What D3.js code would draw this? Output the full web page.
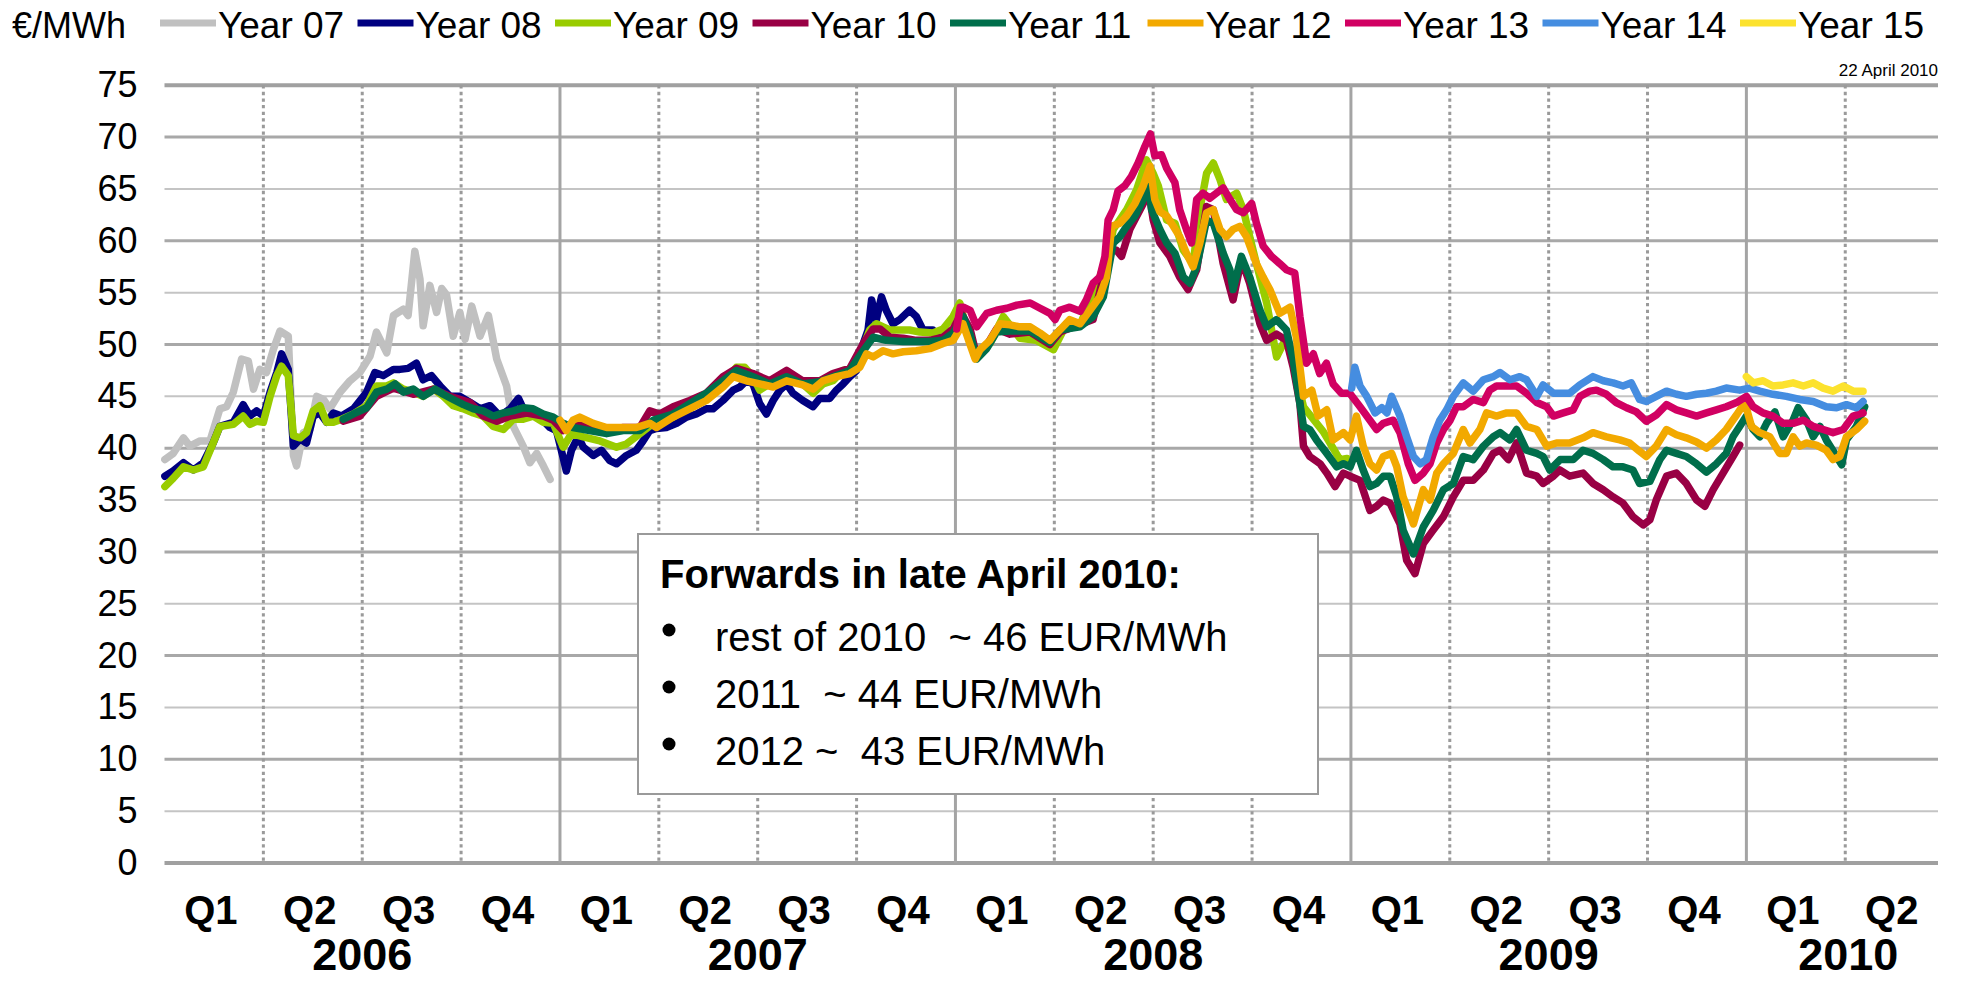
<!DOCTYPE html>
<html>
<head>
  <meta charset="utf-8">
  <title>Baseload forwards</title>
  <script src="https://cdn.jsdelivr.net/npm/d3@7"></script>
  <style>
    body { margin: 0; background: #fff; }
    text { font-family: "Liberation Sans", Arial, sans-serif; fill: #000; }
  </style>
</head>
<body>
<div id="chart"></div>
<script>
  // each point: [decimal year, EUR/MWh]
  var year07 = [[2006.001,38.9],[2006.022,39.5],[2006.048,41.0],[2006.064,40.2],[2006.090,40.7],[2006.115,40.7],[2006.140,43.8],[2006.157,44.0],[2006.174,45.4],[2006.195,48.6],[2006.212,48.4],[2006.225,45.7],[2006.241,47.6],[2006.258,47.3],[2006.275,49.5],[2006.292,51.3],[2006.313,50.8],[2006.326,39.3],[2006.334,38.3],[2006.351,41.5],[2006.368,41.8],[2006.385,45.0],[2006.402,44.7],[2006.418,43.8],[2006.444,45.4],[2006.469,46.5],[2006.494,47.3],[2006.520,48.9],[2006.536,51.2],[2006.562,49.2],[2006.579,52.8],[2006.604,53.4],[2006.616,52.8],[2006.633,59.0],[2006.646,56.3],[2006.654,51.8],[2006.671,55.7],[2006.688,53.1],[2006.701,55.4],[2006.713,54.8],[2006.730,50.8],[2006.747,53.1],[2006.760,50.5],[2006.777,53.7],[2006.798,50.8],[2006.819,52.8],[2006.840,48.6],[2006.865,46.0],[2006.882,42.1],[2006.907,40.2],[2006.924,38.6],[2006.941,39.5],[2006.958,38.3],[2006.975,37.0]];

  var year08 = [[2006.001,37.3],[2006.022,37.8],[2006.048,38.6],[2006.073,37.9],[2006.098,38.6],[2006.123,40.5],[2006.140,42.1],[2006.174,42.5],[2006.199,44.2],[2006.216,43.1],[2006.233,43.6],[2006.250,43.1],[2006.267,45.4],[2006.284,47.3],[2006.296,49.1],[2006.313,47.6],[2006.326,40.2],[2006.343,40.9],[2006.359,40.5],[2006.376,43.1],[2006.393,43.4],[2006.410,42.5],[2006.427,43.4],[2006.448,43.1],[2006.478,43.8],[2006.511,45.4],[2006.532,47.3],[2006.553,47.0],[2006.579,47.6],[2006.595,47.6],[2006.616,47.7],[2006.637,48.2],[2006.654,46.6],[2006.675,47.0],[2006.697,46.0],[2006.722,45.0],[2006.747,45.0],[2006.773,44.4],[2006.798,43.8],[2006.823,44.1],[2006.848,43.1],[2006.874,43.8],[2006.895,44.8],[2006.916,43.1],[2006.941,43.3],[2006.974,42.0],[2006.991,41.7],[2007.008,39.1],[2007.016,37.8],[2007.029,39.8],[2007.046,41.1],[2007.059,40.1],[2007.084,39.3],[2007.105,39.8],[2007.126,38.8],[2007.143,38.5],[2007.168,39.3],[2007.193,39.8],[2007.210,40.7],[2007.227,41.7],[2007.244,41.9],[2007.269,42.0],[2007.295,42.4],[2007.320,43.0],[2007.345,43.3],[2007.370,43.8],[2007.387,43.8],[2007.412,44.6],[2007.438,45.6],[2007.455,45.9],[2007.471,46.5],[2007.488,46.2],[2007.505,44.3],[2007.522,43.3],[2007.539,44.6],[2007.556,45.6],[2007.573,46.2],[2007.589,45.3],[2007.614,44.6],[2007.640,44.0],[2007.657,44.8],[2007.682,44.8],[2007.699,45.6],[2007.716,46.2],[2007.733,46.9],[2007.750,47.5],[2007.767,50.1],[2007.779,51.4],[2007.788,54.3],[2007.800,52.4],[2007.813,54.6],[2007.825,53.3],[2007.842,52.0],[2007.859,52.4],[2007.884,53.3],[2007.901,52.7],[2007.918,51.4],[2007.943,51.4],[2007.960,50.7],[2007.986,50.7]];

  var year09 = [[2006.001,36.3],[2006.022,37.1],[2006.048,38.2],[2006.073,37.9],[2006.098,38.2],[2006.123,40.5],[2006.140,42.1],[2006.174,42.3],[2006.199,43.1],[2006.216,42.3],[2006.233,42.6],[2006.250,42.5],[2006.267,45.0],[2006.284,47.0],[2006.296,47.9],[2006.313,47.0],[2006.326,41.2],[2006.343,41.0],[2006.359,41.5],[2006.376,43.6],[2006.393,44.1],[2006.410,42.5],[2006.427,42.5],[2006.448,42.8],[2006.478,43.3],[2006.511,44.1],[2006.536,46.0],[2006.562,46.0],[2006.579,46.3],[2006.604,45.7],[2006.629,45.4],[2006.654,45.0],[2006.680,45.7],[2006.705,45.0],[2006.730,44.1],[2006.756,43.8],[2006.781,43.4],[2006.806,43.1],[2006.831,42.1],[2006.857,41.8],[2006.882,42.8],[2006.907,42.8],[2006.932,43.1],[2006.958,42.5],[2006.983,42.4],[2007.008,40.1],[2007.029,41.4],[2007.059,41.1],[2007.101,40.7],[2007.143,40.1],[2007.168,40.4],[2007.202,41.4],[2007.236,42.4],[2007.286,43.0],[2007.328,44.0],[2007.370,44.9],[2007.412,46.2],[2007.446,47.8],[2007.467,47.8],[2007.488,46.9],[2007.505,45.6],[2007.530,46.2],[2007.556,46.5],[2007.581,46.9],[2007.614,46.2],[2007.640,45.3],[2007.665,46.2],[2007.690,46.5],[2007.716,47.5],[2007.741,47.7],[2007.767,49.8],[2007.783,51.4],[2007.800,52.0],[2007.817,51.7],[2007.834,51.4],[2007.859,51.4],[2007.884,51.4],[2007.910,51.2],[2007.943,51.1],[2007.969,51.5],[2007.994,52.7],[2008.011,54.0],[2008.028,51.5],[2008.050,48.8],[2008.087,50.1],[2008.121,52.7],[2008.163,50.6],[2008.205,50.4],[2008.248,49.5],[2008.273,51.4],[2008.315,51.9],[2008.357,55.6],[2008.391,59.5],[2008.399,61.1],[2008.433,63.0],[2008.458,64.9],[2008.483,67.8],[2008.500,66.5],[2008.513,65.3],[2008.534,62.0],[2008.555,61.7],[2008.576,59.1],[2008.601,57.8],[2008.618,63.0],[2008.635,66.5],[2008.652,67.5],[2008.669,65.9],[2008.685,64.0],[2008.711,64.6],[2008.728,63.0],[2008.744,60.4],[2008.761,57.8],[2008.787,54.0],[2008.812,48.8],[2008.837,50.7],[2008.854,48.2],[2008.880,44.0],[2008.930,41.6],[2008.972,38.9],[2008.990,39.0]];

  var year10 = [[2006.452,42.6],[2006.494,43.1],[2006.536,45.0],[2006.579,45.8],[2006.629,45.2],[2006.680,45.7],[2006.722,45.0],[2006.773,44.4],[2006.806,43.1],[2006.840,42.6],[2006.874,43.1],[2006.916,43.4],[2006.958,43.1],[2006.983,42.7],[2007.008,41.7],[2007.033,42.4],[2007.075,42.0],[2007.118,41.7],[2007.160,42.0],[2007.202,42.0],[2007.227,43.6],[2007.252,43.3],[2007.286,44.0],[2007.328,44.6],[2007.370,45.3],[2007.412,46.9],[2007.446,47.7],[2007.488,47.2],[2007.530,46.5],[2007.573,47.5],[2007.614,46.5],[2007.657,46.5],[2007.690,47.2],[2007.733,47.7],[2007.767,50.1],[2007.792,51.5],[2007.809,51.5],[2007.834,50.7],[2007.868,50.6],[2007.901,50.4],[2007.935,50.4],[2007.969,50.7],[2007.994,51.5],[2008.015,53.0],[2008.037,51.5],[2008.054,48.8],[2008.079,49.9],[2008.104,51.5],[2008.138,51.0],[2008.189,51.2],[2008.239,50.0],[2008.264,51.2],[2008.348,52.4],[2008.390,59.1],[2008.407,59.1],[2008.420,58.5],[2008.441,61.1],[2008.475,63.6],[2008.487,65.3],[2008.500,62.0],[2008.517,59.8],[2008.542,58.5],[2008.567,56.5],[2008.588,55.3],[2008.610,57.2],[2008.635,63.3],[2008.652,63.0],[2008.677,57.8],[2008.702,54.3],[2008.723,58.2],[2008.744,55.9],[2008.770,52.0],[2008.787,50.4],[2008.812,51.0],[2008.837,50.4],[2008.854,47.8],[2008.871,44.3],[2008.880,40.2],[2008.896,39.2],[2008.922,38.5],[2008.939,37.6],[2008.960,36.3],[2008.981,37.6],[2008.998,37.3],[2009.023,36.9],[2009.048,34.0],[2009.065,34.4],[2009.082,35.0],[2009.099,34.7],[2009.124,32.7],[2009.141,29.2],[2009.162,27.9],[2009.183,30.8],[2009.208,32.1],[2009.234,33.4],[2009.259,35.3],[2009.284,36.9],[2009.309,36.9],[2009.335,37.9],[2009.360,39.5],[2009.377,39.8],[2009.398,38.9],[2009.419,40.5],[2009.444,37.6],[2009.470,37.3],[2009.486,36.6],[2009.512,37.3],[2009.528,37.9],[2009.553,37.3],[2009.587,37.6],[2009.612,36.6],[2009.638,36.0],[2009.663,35.3],[2009.688,34.7],[2009.713,33.4],[2009.739,32.6],[2009.756,33.1],[2009.772,35.0],[2009.798,37.3],[2009.823,37.6],[2009.848,36.6],[2009.874,35.0],[2009.895,34.4],[2009.916,36.0],[2009.941,37.6],[2009.966,39.2],[2009.983,40.3]];

  var year11 = [[2006.452,42.8],[2006.478,43.3],[2006.511,43.9],[2006.536,45.4],[2006.562,45.7],[2006.583,46.2],[2006.604,45.4],[2006.629,45.7],[2006.654,45.0],[2006.684,45.7],[2006.705,45.2],[2006.730,44.7],[2006.756,44.2],[2006.781,43.8],[2006.806,43.6],[2006.831,43.1],[2006.857,43.4],[2006.882,43.6],[2006.907,43.9],[2006.932,43.8],[2006.958,43.3],[2006.983,43.0],[2007.008,42.4],[2007.033,42.0],[2007.075,41.7],[2007.118,41.4],[2007.160,41.7],[2007.202,41.7],[2007.236,42.7],[2007.286,43.3],[2007.328,44.3],[2007.370,45.3],[2007.412,46.5],[2007.446,47.5],[2007.488,46.9],[2007.530,46.2],[2007.573,46.9],[2007.614,46.2],[2007.657,46.4],[2007.690,46.9],[2007.733,47.5],[2007.767,49.4],[2007.792,50.7],[2007.825,50.4],[2007.868,50.3],[2007.901,50.3],[2007.935,50.3],[2007.969,50.4],[2007.994,51.1],[2008.019,52.7],[2008.037,51.0],[2008.054,48.6],[2008.079,49.6],[2008.104,51.2],[2008.138,51.3],[2008.189,51.3],[2008.239,50.2],[2008.264,51.4],[2008.315,51.7],[2008.348,52.7],[2008.374,54.6],[2008.399,59.8],[2008.416,60.4],[2008.433,61.4],[2008.454,62.4],[2008.475,64.0],[2008.487,65.9],[2008.496,63.0],[2008.517,61.1],[2008.534,59.8],[2008.555,58.8],[2008.576,56.5],[2008.593,55.9],[2008.610,57.5],[2008.635,62.0],[2008.652,61.7],[2008.677,58.8],[2008.694,57.2],[2008.702,55.3],[2008.723,58.5],[2008.744,56.5],[2008.770,53.3],[2008.787,51.7],[2008.812,52.4],[2008.837,51.4],[2008.854,48.5],[2008.871,44.3],[2008.880,42.1],[2008.896,41.8],[2008.913,40.8],[2008.939,39.5],[2008.964,38.2],[2008.981,38.5],[2008.998,38.2],[2009.014,39.8],[2009.031,37.9],[2009.048,36.3],[2009.065,36.6],[2009.082,37.3],[2009.099,37.3],[2009.116,35.3],[2009.132,32.1],[2009.158,29.8],[2009.183,32.4],[2009.208,34.0],[2009.234,36.0],[2009.259,36.6],[2009.284,39.2],[2009.309,38.9],[2009.335,40.2],[2009.360,41.1],[2009.377,41.5],[2009.402,40.8],[2009.419,41.8],[2009.444,39.8],[2009.470,39.5],[2009.486,39.2],[2009.503,37.9],[2009.529,38.9],[2009.562,38.9],[2009.587,39.8],[2009.612,39.5],[2009.638,38.9],[2009.663,38.2],[2009.688,38.2],[2009.713,37.9],[2009.730,36.6],[2009.756,36.8],[2009.781,38.9],[2009.798,39.8],[2009.823,39.5],[2009.848,39.2],[2009.874,38.5],[2009.899,37.7],[2009.924,38.5],[2009.949,39.5],[2009.966,41.1],[2009.983,42.1],[2010.000,43.1],[2010.017,41.8],[2010.034,41.1],[2010.051,42.4],[2010.072,43.5],[2010.093,41.1],[2010.118,42.7],[2010.131,43.9],[2010.152,42.7],[2010.169,41.1],[2010.186,42.1],[2010.202,40.8],[2010.228,39.2],[2010.241,38.4],[2010.253,40.8],[2010.278,42.1],[2010.299,44.0]];

  var year12 = [[2007.000,42.7],[2007.016,41.7],[2007.033,42.7],[2007.050,43.0],[2007.084,42.4],[2007.118,42.0],[2007.151,42.0],[2007.193,42.0],[2007.227,42.4],[2007.244,42.0],[2007.286,43.0],[2007.328,43.8],[2007.370,44.6],[2007.412,45.9],[2007.438,46.9],[2007.471,46.5],[2007.505,46.2],[2007.539,45.9],[2007.573,46.5],[2007.614,46.1],[2007.640,45.7],[2007.665,46.5],[2007.699,46.9],[2007.733,47.2],[2007.758,47.8],[2007.775,49.1],[2007.792,48.8],[2007.817,49.4],[2007.842,49.1],[2007.868,49.3],[2007.901,49.4],[2007.935,49.6],[2007.969,50.1],[2007.994,50.4],[2008.019,52.0],[2008.037,50.0],[2008.050,48.6],[2008.062,49.5],[2008.087,50.4],[2008.113,52.0],[2008.138,51.9],[2008.163,51.7],[2008.189,51.7],[2008.214,51.1],[2008.239,50.4],[2008.264,51.4],[2008.289,52.4],[2008.315,52.0],[2008.340,53.3],[2008.365,54.6],[2008.382,56.5],[2008.395,61.4],[2008.416,61.7],[2008.433,62.4],[2008.454,63.6],[2008.475,65.3],[2008.492,67.2],[2008.504,64.0],[2008.517,62.8],[2008.534,62.4],[2008.551,61.4],[2008.567,60.4],[2008.584,58.8],[2008.601,57.5],[2008.618,59.8],[2008.635,62.7],[2008.652,63.0],[2008.669,61.1],[2008.685,60.4],[2008.702,61.1],[2008.719,61.4],[2008.736,60.4],[2008.761,57.8],[2008.778,56.5],[2008.795,55.3],[2008.820,53.0],[2008.846,53.6],[2008.862,50.7],[2008.880,45.0],[2008.901,45.6],[2008.917,43.1],[2008.939,43.7],[2008.955,40.8],[2008.981,41.5],[2008.998,40.8],[2009.014,43.1],[2009.031,40.2],[2009.048,38.5],[2009.065,37.9],[2009.082,39.2],[2009.103,39.5],[2009.116,38.2],[2009.132,35.3],[2009.158,32.7],[2009.183,36.0],[2009.200,35.0],[2009.217,37.6],[2009.234,38.5],[2009.259,39.5],[2009.284,41.8],[2009.301,40.5],[2009.326,41.8],[2009.343,43.4],[2009.368,43.1],[2009.394,43.4],[2009.419,43.4],[2009.444,42.1],[2009.470,41.8],[2009.495,40.2],[2009.520,40.5],[2009.553,40.5],[2009.587,41.0],[2009.612,41.5],[2009.646,41.1],[2009.680,40.8],[2009.705,40.5],[2009.730,39.7],[2009.747,39.2],[2009.772,40.2],[2009.798,41.8],[2009.823,41.3],[2009.848,41.0],[2009.874,40.6],[2009.899,40.0],[2009.924,40.8],[2009.949,41.8],[2009.975,43.2],[2009.996,44.4],[2010.013,42.1],[2010.034,41.5],[2010.059,41.1],[2010.084,39.5],[2010.101,39.5],[2010.118,41.1],[2010.135,40.2],[2010.152,40.5],[2010.177,40.3],[2010.202,39.8],[2010.219,38.9],[2010.236,39.2],[2010.253,41.1],[2010.278,41.8],[2010.299,42.6]];

  var year13 = [[2008.003,51.5],[2008.012,53.6],[2008.020,53.6],[2008.037,53.3],[2008.054,51.7],[2008.079,53.0],[2008.104,53.3],[2008.130,53.5],[2008.155,53.8],[2008.189,54.0],[2008.214,53.5],[2008.239,53.0],[2008.252,52.4],[2008.264,53.3],[2008.289,53.6],[2008.315,53.2],[2008.331,54.3],[2008.348,55.9],[2008.365,56.5],[2008.378,58.5],[2008.386,62.0],[2008.399,63.0],[2008.411,64.8],[2008.428,65.3],[2008.445,66.2],[2008.462,67.5],[2008.479,69.1],[2008.493,70.3],[2008.504,68.2],[2008.521,68.3],[2008.534,67.0],[2008.555,65.6],[2008.567,63.0],[2008.584,61.1],[2008.597,59.8],[2008.610,64.0],[2008.626,64.6],[2008.643,64.1],[2008.660,64.6],[2008.677,65.1],[2008.694,64.0],[2008.711,63.0],[2008.728,62.7],[2008.749,63.6],[2008.761,61.7],[2008.778,59.5],[2008.799,58.5],[2008.820,57.8],[2008.837,57.2],[2008.858,56.9],[2008.871,52.7],[2008.888,48.2],[2008.905,49.1],[2008.921,47.2],[2008.938,48.2],[2008.955,46.2],[2008.976,45.3],[2008.997,45.3],[2009.023,44.0],[2009.048,42.7],[2009.065,41.8],[2009.082,42.4],[2009.107,42.7],[2009.124,41.5],[2009.145,38.5],[2009.162,36.9],[2009.183,37.6],[2009.200,38.5],[2009.217,40.5],[2009.234,41.8],[2009.251,42.7],[2009.267,44.0],[2009.284,44.0],[2009.309,44.7],[2009.335,44.4],[2009.351,45.6],[2009.368,46.0],[2009.394,46.0],[2009.419,46.0],[2009.444,45.3],[2009.470,44.4],[2009.495,44.0],[2009.512,43.1],[2009.537,43.4],[2009.562,43.7],[2009.579,45.0],[2009.604,45.5],[2009.621,45.6],[2009.646,45.2],[2009.671,44.4],[2009.697,43.9],[2009.722,43.5],[2009.747,42.6],[2009.772,43.2],[2009.798,44.2],[2009.823,43.7],[2009.848,43.4],[2009.874,43.1],[2009.899,43.4],[2009.924,43.7],[2009.949,44.0],[2009.975,44.4],[2010.000,45.0],[2010.017,44.0],[2010.042,43.4],[2010.067,43.1],[2010.093,42.4],[2010.118,42.4],[2010.144,42.7],[2010.169,42.1],[2010.194,41.8],[2010.219,41.5],[2010.245,41.8],[2010.270,43.1],[2010.295,43.4]];

  var year14 = [[2009.002,45.8],[2009.010,47.8],[2009.023,46.0],[2009.040,45.0],[2009.061,43.4],[2009.078,43.9],[2009.091,43.4],[2009.103,45.0],[2009.124,43.1],[2009.141,41.1],[2009.158,39.2],[2009.175,38.5],[2009.191,38.9],[2009.208,41.1],[2009.225,42.7],[2009.242,43.7],[2009.259,45.0],[2009.284,46.3],[2009.309,45.5],[2009.335,46.6],[2009.360,46.9],[2009.377,47.3],[2009.402,46.6],[2009.427,46.9],[2009.444,46.6],[2009.470,45.0],[2009.486,46.1],[2009.512,45.3],[2009.537,45.3],[2009.553,45.3],[2009.579,46.1],[2009.612,46.9],[2009.638,46.5],[2009.663,46.3],[2009.688,46.0],[2009.709,46.3],[2009.730,44.7],[2009.747,44.5],[2009.772,45.0],[2009.798,45.5],[2009.823,45.2],[2009.848,45.0],[2009.874,45.2],[2009.899,45.3],[2009.924,45.5],[2009.949,45.8],[2009.983,45.6],[2010.008,45.8],[2010.034,45.5],[2010.067,45.2],[2010.101,45.0],[2010.135,44.7],[2010.169,44.5],[2010.202,44.0],[2010.228,43.9],[2010.253,44.2],[2010.278,43.9],[2010.295,44.5]];

  var year15 = [[2010.000,46.9],[2010.017,46.3],[2010.042,46.5],[2010.067,46.0],[2010.093,46.1],[2010.118,46.3],[2010.144,46.0],[2010.169,46.3],[2010.194,45.8],[2010.219,45.5],[2010.245,46.0],[2010.270,45.5],[2010.295,45.5]];

  var seriesNames = ["Year 07", "Year 08", "Year 09", "Year 10", "Year 11", "Year 12", "Year 13", "Year 14", "Year 15"];
  var seriesData = [year07, year08, year09, year10, year11, year12, year13, year14, year15];
  var seriesColors = ["#c0c0c0", "#000080", "#99cc00", "#990044", "#006e4b", "#f2a900", "#d10062", "#458de0", "#fce22e"];

  var yTicks = [0, 5, 10, 15, 20, 25, 30, 35, 40, 45, 50, 55, 60, 65, 70, 75];
  var years = [2006, 2007, 2008, 2009, 2010];
  var quarterLabels = ["Q1", "Q2", "Q3", "Q4"];
  var lastDate = 2010.4845;
  var noteTitle = "Forwards in late April 2010:";
  var noteLines = ["rest of 2010  ~ 46 EUR/MWh", "2011  ~ 44 EUR/MWh", "2012 ~  43 EUR/MWh"];

  var width = 1963, height = 982;
  var svg = d3.select("#chart").append("svg")
    .attr("width", width)
    .attr("height", height);

  var x = d3.scaleLinear().domain([2006, lastDate]).range([164.5, 1938]);
  var y = d3.scaleLinear().domain([0, 75]).range([863, 85.25]);

  // horizontal gridlines
  svg.append("g").selectAll("line")
    .data(yTicks)
    .enter().append("line")
    .attr("x1", x(2006)).attr("x2", x(lastDate))
    .attr("y1", d => y(d)).attr("y2", d => y(d))
    .attr("stroke", d => (d == 0 || d == 75) ? "#a0a0a0" : (d % 10 == 0 ? "#a8a8a8" : "#c4c4c4"))
    .attr("stroke-width", d => (d == 0 || d == 75) ? 4 : (d % 10 == 0 ? 3 : 2));

  // quarter boundaries (dotted) and year boundaries (solid)
  var quarterLines = [];
  years.forEach(function(yr) {
    [0.25, 0.5, 0.75].forEach(function(f) {
      if (yr + f < lastDate) quarterLines.push(yr + f);
    });
  });
  svg.append("g").selectAll("line")
    .data(quarterLines)
    .enter().append("line")
    .attr("x1", d => x(d)).attr("x2", d => x(d))
    .attr("y1", y(75)).attr("y2", y(0))
    .attr("stroke", "#9a9a9a")
    .attr("stroke-width", 3)
    .attr("stroke-dasharray", "3.3,3.3");

  svg.append("g").selectAll("line")
    .data(years.slice(1))
    .enter().append("line")
    .attr("x1", d => x(d)).attr("x2", d => x(d))
    .attr("y1", y(75)).attr("y2", y(0))
    .attr("stroke", "#a4a4a4")
    .attr("stroke-width", 3);

  // y axis labels
  var yAxis = svg.append("g")
    .attr("transform", "translate(" + x(2006) + ",0)")
    .call(d3.axisLeft(y).tickValues(yTicks).tickSize(0).tickPadding(27));
  yAxis.select(".domain").remove();
  yAxis.selectAll("text")
    .attr("font-family", "Liberation Sans, Arial, sans-serif")
    .attr("font-size", 36)
    .attr("fill", "#000");

  // price lines
  var line = d3.line()
    .x(d => x(d[0]))
    .y(d => y(d[1]));

  svg.append("g").selectAll("path")
    .data(seriesData)
    .enter().append("path")
    .attr("d", d => line(d))
    .attr("fill", "none")
    .attr("stroke", (d, i) => seriesColors[i])
    .attr("stroke-width", 7.5)
    .attr("stroke-linejoin", "round")
    .attr("stroke-linecap", "round");

  // quarter and year labels under the plot
  var quarterCenters = [];
  years.forEach(function(yr) {
    quarterLabels.forEach(function(q, i) {
      var c = yr + (i + 0.5) / 4;
      if (c < lastDate) quarterCenters.push({ t: c, label: q });
    });
  });
  svg.append("g").selectAll("text")
    .data(quarterCenters)
    .enter().append("text")
    .attr("x", d => x(d.t) - 3)
    .attr("y", 924)
    .attr("text-anchor", "middle")
    .attr("font-size", 40)
    .attr("font-weight", "bold")
    .text(d => d.label);

  svg.append("g").selectAll("text")
    .data(years)
    .enter().append("text")
    .attr("x", d => d == 2010 ? (x(2010) + x(lastDate)) / 2 + 6 : x(d + 0.5))
    .attr("y", 970)
    .attr("text-anchor", "middle")
    .attr("font-size", 45)
    .attr("font-weight", "bold")
    .text(d => d);

  // legend across the top
  svg.append("text")
    .attr("x", 12).attr("y", 38)
    .attr("font-size", 36)
    .text("€/MWh");

  var legend = svg.append("g").selectAll("g")
    .data(seriesNames)
    .enter().append("g")
    .attr("transform", (d, i) => "translate(" + (160 + i * 197.5) + ",0)");
  legend.append("line")
    .attr("x1", 0).attr("x2", 56)
    .attr("y1", 23).attr("y2", 23)
    .attr("stroke", (d, i) => seriesColors[i])
    .attr("stroke-width", 7);
  legend.append("text")
    .attr("x", 58).attr("y", 38)
    .attr("font-size", 37)
    .text(d => d);

  svg.append("text")
    .attr("x", 1938).attr("y", 76)
    .attr("text-anchor", "end")
    .attr("font-size", 17)
    .text("22 April 2010");

  // note box
  var note = svg.append("g");
  note.append("rect")
    .attr("x", 638).attr("y", 534)
    .attr("width", 680).attr("height", 260)
    .attr("fill", "#fff")
    .attr("stroke", "#9a9a9a")
    .attr("stroke-width", 2);
  note.append("text")
    .attr("x", 660).attr("y", 588)
    .attr("font-size", 40)
    .attr("font-weight", "bold")
    .text(noteTitle);
  noteLines.forEach(function(s, i) {
    note.append("circle")
      .attr("cx", 669).attr("cy", 630 + i * 57)
      .attr("r", 6.5)
      .attr("fill", "#000");
    note.append("text")
      .attr("x", 715).attr("y", 651 + i * 57)
      .attr("font-size", 40)
      .style("white-space", "pre")
      .text(s);
  });
</script>
</body>
</html>
